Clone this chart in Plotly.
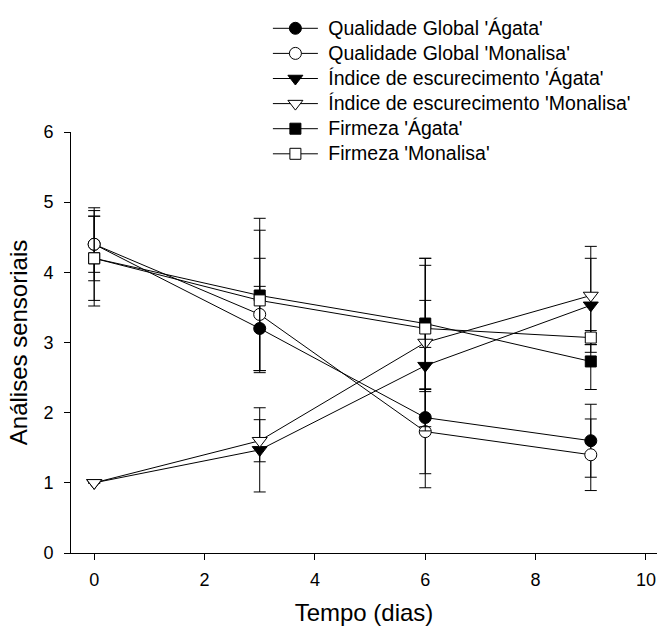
import plotly.graph_objects as go

# Storage time (days)
dias = [0, 3, 6, 9]

# Sensory scores (means) and standard deviations per cultivar
qualidade_agata = [4.4, 3.2, 1.93, 1.6]
qualidade_agata_dp = [0.52, 0.6, 1.0, 0.52]
qualidade_monalisa = [4.4, 3.4, 1.73, 1.4]
qualidade_monalisa_dp = [0.4, 0.8, 0.6, 0.51]

escurecimento_agata = [1.0, 1.47, 2.67, 3.53]
escurecimento_agata_dp = [0.0, 0.6, 0.93, 0.67]
escurecimento_monalisa = [1.0, 1.6, 3.0, 3.67]
escurecimento_monalisa_dp = [0.0, 0.3, 1.2, 0.7]

firmeza_agata = [4.2, 3.67, 3.27, 2.73]
firmeza_agata_dp = [0.68, 1.1, 0.93, 0.4]
firmeza_monalisa = [4.2, 3.6, 3.2, 3.07]
firmeza_monalisa_dp = [0.6, 1.0, 0.9, 0.1]

series = [
    ("Qualidade Global 'Ágata'", qualidade_agata, qualidade_agata_dp, "circle", "black", 12),
    ("Qualidade Global 'Monalisa'", qualidade_monalisa, qualidade_monalisa_dp, "circle", "white", 12),
    ("Índice de escurecimento 'Ágata'", escurecimento_agata, escurecimento_agata_dp, "triangle-down", "black", 13),
    ("Índice de escurecimento 'Monalisa'", escurecimento_monalisa, escurecimento_monalisa_dp, "triangle-down", "white", 13),
    ("Firmeza 'Ágata'", firmeza_agata, firmeza_agata_dp, "square", "black", 11),
    ("Firmeza 'Monalisa'", firmeza_monalisa, firmeza_monalisa_dp, "square", "white", 11),
]

FONT = "Liberation Sans, Arial, sans-serif"
LEGEND_TEXT = '<span style="font-size:19.5px">\u00a0{}</span>'

fig = go.Figure()
for nome, valores, dp, simbolo, preench, tam in series:
    fig.add_trace(go.Scatter(
        x=dias, y=valores, name=LEGEND_TEXT.format(nome), mode="lines+markers",
        line=dict(color="black", width=1),
        marker=dict(symbol=simbolo, size=tam, color=preench,
                    line=dict(color="black", width=1)),
        error_y=dict(type="data", array=dp, visible=True,
                     color="black", thickness=1, width=6),
    ))

fig.update_layout(
    width=666, height=626,
    margin=dict(l=71, r=9, t=132, b=73, autoexpand=False),
    paper_bgcolor="white", plot_bgcolor="white",
    font=dict(family=FONT, color="black"),
    showlegend=True,
    legend=dict(
        x=0.336, y=1.288, xanchor="left", yanchor="top",
        xref="paper", yref="paper",
        bgcolor="rgba(0,0,0,0)", borderwidth=0,
        font=dict(family=FONT, size=17, color="black"),
        itemwidth=45, tracegroupgap=0,
    ),
    xaxis=dict(
        range=[-0.42, 10.2], tickvals=[0, 2, 4, 6, 8, 10],
        showgrid=False, zeroline=False,
        showline=True, linecolor="black", linewidth=1,
        ticks="outside", ticklen=6, tickcolor="black",
        tickfont=dict(family=FONT, size=18), ticklabelstandoff=4,
        title=dict(text="Tempo (dias)", font=dict(family=FONT, size=24), standoff=16),
    ),
    yaxis=dict(
        range=[0, 6], tickvals=[0, 1, 2, 3, 4, 5, 6],
        showgrid=False, zeroline=False,
        showline=True, linecolor="black", linewidth=1,
        ticks="outside", ticklen=6, tickcolor="black",
        tickfont=dict(family=FONT, size=18), ticklabelstandoff=7,
        title=dict(text="Análises sensoriais", font=dict(family=FONT, size=24), standoff=8),
    ),
)

fig.write_html("out.html")
